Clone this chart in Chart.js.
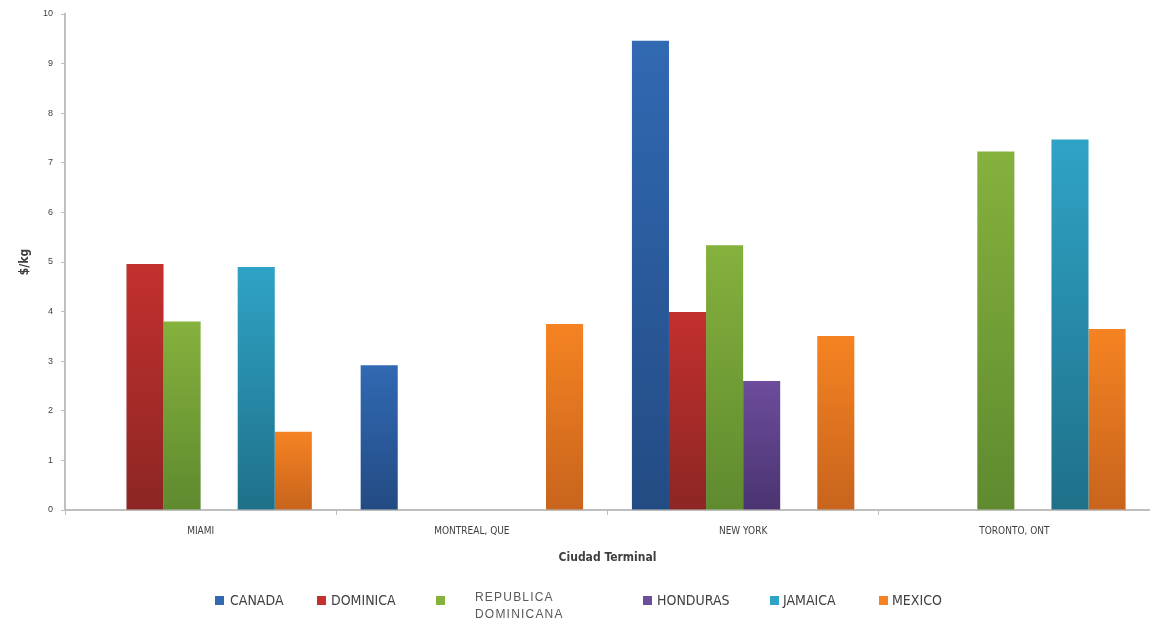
<!DOCTYPE html>
<html>
<head>
<meta charset="utf-8">
<script src="https://cdn.jsdelivr.net/npm/chart.js@4/dist/chart.umd.min.js"></script>
<style>
  html, body { margin: 0; padding: 0; background: #fff; }
  #wrap { position: relative; width: 1150px; height: 626px; overflow: hidden; }
  #c { position: absolute; left: 0; top: 0; }
  .lg { position: absolute; font-family: 'Liberation Sans Narrow', 'DejaVu Sans Condensed', 'Liberation Sans', sans-serif; font-size: 14px; color: #404040; white-space: nowrap; }
  .bx { position: absolute; width: 9px; height: 9px; }
</style>
</head>
<body>
<div id="wrap">
  <canvas id="c" width="1150" height="626"></canvas>
  <div id="legend"></div>
</div>
<script>
// ---- data ----
const categories = ['MIAMI', 'MONTREAL, QUE', 'NEW YORK', 'TORONTO, ONT'];
const seriesNames = ['CANADA', 'DOMINICA', 'REPUBLICA DOMINICANA', 'HONDURAS', 'JAMAICA', 'MEXICO'];
const canada   = [null, 2.92, 9.46, null];
const dominica = [4.96, null, 3.99, null];
const repDom   = [3.80, null, 5.34, 7.23];
const honduras = [null, null, 2.60, null];
const jamaica  = [4.90, null, null, 7.47];
const mexico   = [1.58, 3.75, 3.51, 3.65];
const yTicks   = [0, 1, 2, 3, 4, 5, 6, 7, 8, 9, 10];
const yTitle = '$/kg';
const xTitle = 'Ciudad Terminal';

// ---- styles ----
const colorTop = ['#3169b3', '#c3302e', '#85b13d', '#6c4c9c', '#2fa3c6', '#f58322'];
const colorBot = ['#234b83', '#8c2624', '#5f8a2f', '#4b3471', '#1f7089', '#c8641d'];
const values = [canada, dominica, repDom, honduras, jamaica, mexico];

function grad(i) {
  return function (ctx) {
    const chart = ctx.chart;
    const ys = chart.scales && chart.scales.y;
    const v = ctx.raw;
    if (!ys || v === null || v === undefined) return colorTop[i];
    const top = ys.getPixelForValue(v);
    const bot = ys.getPixelForValue(0);
    if (!isFinite(top) || !isFinite(bot) || top === bot) return colorTop[i];
    const g = chart.ctx.createLinearGradient(0, top, 0, bot);
    g.addColorStop(0, colorTop[i]);
    g.addColorStop(1, colorBot[i]);
    return g;
  };
}

const datasets = seriesNames.map((name, i) => ({
  label: name,
  data: values[i],
  backgroundColor: grad(i),
  borderWidth: 0,
  categoryPercentage: 0.82,
  barPercentage: 1.0
}));

const tickFont = { family: "'Liberation Sans Narrow', 'DejaVu Sans Condensed', 'Liberation Sans', sans-serif", size: 10 };
const titleFont = { family: "'Liberation Sans Narrow', 'DejaVu Sans Condensed', 'Liberation Sans', sans-serif", size: 12, weight: 'bold' };

new Chart(document.getElementById('c'), {
  type: 'bar',
  data: { labels: categories, datasets },
  options: {
    responsive: false,
    animation: false,
    layout: { padding: { top: 14, right: 0, bottom: 56, left: 0 } },
    plugins: { legend: { display: false }, tooltip: { enabled: false } },
    scales: {
      x: {
        offset: true,
        grid: { display: true, drawOnChartArea: false, drawTicks: true, tickLength: 5, color: '#bfbfbf', offset: true },
        border: { display: true, color: '#bfbfbf', width: 2 },
        ticks: { font: tickFont, color: '#404040', padding: 10, maxRotation: 0, autoSkip: false },
        title: { display: true, text: xTitle, font: titleFont, color: '#404040', padding: { top: 0, bottom: 5 } },
        afterFit: s => { s.height = 60; }
      },
      y: {
        min: 0, max: 10,
        afterBuildTicks: s => { s.ticks = yTicks.map(v => ({ value: v })); },
        grid: { display: true, drawOnChartArea: false, drawTicks: true, tickLength: 4, color: '#bfbfbf' },
        border: { display: true, color: '#bfbfbf', width: 2 },
        ticks: { font: { family: "'Liberation Sans', sans-serif", size: 9 }, color: '#404040', padding: 8 },
        title: { display: true, text: yTitle, font: titleFont, color: '#404040', padding: { top: 18, bottom: 0 } },
        afterFit: s => { s.width = 65; }
      }
    }
  }
});

// ---- legend (HTML text) ----
const legendPos = [
  { box: 215, text: 230 },
  { box: 317, text: 331 },
  { box: 436, text: 475 },
  { box: 643, text: 657 },
  { box: 770, text: 783 },
  { box: 879, text: 892 }
];
const lg = document.getElementById('legend');
seriesNames.forEach((name, i) => {
  const b = document.createElement('div');
  b.className = 'bx';
  b.style.left = legendPos[i].box + 'px';
  b.style.top = '596px';
  b.style.background = colorTop[i];
  lg.appendChild(b);
  const t = document.createElement('div');
  t.className = 'lg';
  t.style.left = legendPos[i].text + 'px';
  if (name === 'REPUBLICA DOMINICANA') {
    const parts = name.split(' ');
    t.style.top = '589px';
    t.style.lineHeight = '17px';
    t.style.fontFamily = "'Liberation Sans', sans-serif";
    t.style.fontSize = '12px';
    t.style.letterSpacing = '1.2px';
    t.style.color = '#595959';
    t.innerHTML = parts[0] + '<br>' + parts[1];
  } else {
    t.style.top = '592px';
    t.textContent = name;
  }
  lg.appendChild(t);
});
</script>
</body>
</html>
